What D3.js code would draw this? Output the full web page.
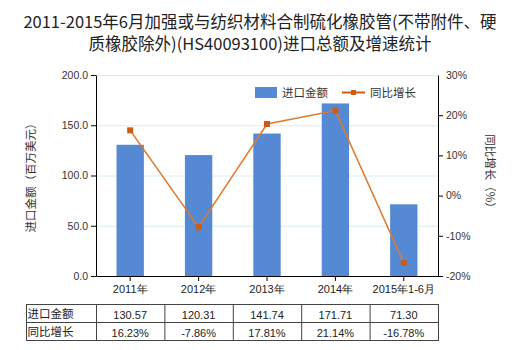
<!DOCTYPE html>
<html>
<head>
<meta charset="utf-8">
<script src="https://cdn.jsdelivr.net/npm/d3@7"></script>
<style>
  html, body { margin: 0; padding: 0; background: #fff; }
  svg { display: block; font-family: "Noto Sans CJK SC", "DejaVu Sans", sans-serif; }
</style>
</head>
<body>
<svg id="chart" width="520" height="350"></svg>
<script>
// Import values (million USD) and year-on-year growth (%)
const categories = ["2011年", "2012年", "2013年", "2014年", "2015年1-6月"];
const importValues = [130.57, 120.31, 141.74, 171.71, 71.30];
const growthRates = [16.23, -7.86, 17.81, 21.14, -16.78];
const leftTicks = [0, 50, 100, 150, 200];
const rightTicks = [-20, -10, 0, 10, 20, 30];
const titleLines = [
  "2011-2015年6月加强或与纺织材料合制硫化橡胶管(不带附件、硬",
  "质橡胶除外)(HS40093100)进口总额及增速统计"
];
const rowNames = ["进口金额", "同比增长"];

const svg = d3.select("#chart");
const plot = { left: 96, right: 438, top: 75, bottom: 276 };
const barColor = "#5589d4";
const lineColor = "#e0782c";
const markerColor = "#cf5a12";
const numFont = "'Liberation Sans', Arial, sans-serif";

const x = d3.scaleBand().domain(categories).range([plot.left, plot.right]);
const yL = d3.scaleLinear().domain([0, 200]).range([plot.bottom, plot.top]);
const yR = d3.scaleLinear().domain([-20, 30]).range([plot.bottom, plot.top]);

// Title
svg.append("g").selectAll("text").data(titleLines).join("text")
  .attr("x", 260).attr("y", (d, i) => 28 + i * 22)
  .attr("text-anchor", "middle")
  .attr("font-size", 16.5).attr("fill", "#222")
  .text(d => d);

// Gridlines
svg.append("g").selectAll("line").data(leftTicks.filter(t => t > 0)).join("line")
  .attr("x1", plot.left).attr("x2", plot.right)
  .attr("y1", d => yL(d) + 0.5).attr("y2", d => yL(d) + 0.5)
  .attr("stroke", "#d6eef3").attr("stroke-width", 1);

// Bars
const barW = x.bandwidth() * 0.4;
svg.append("g").selectAll("rect").data(importValues).join("rect")
  .attr("x", (d, i) => x(categories[i]) + (x.bandwidth() - barW) / 2)
  .attr("y", d => yL(d))
  .attr("width", barW)
  .attr("height", d => plot.bottom - yL(d))
  .attr("fill", barColor);

// Left axis
const axL = svg.append("g").attr("transform", `translate(${plot.left},0)`)
  .call(d3.axisLeft(yL).tickValues(leftTicks).tickFormat(d3.format(".1f")).tickSize(5).tickSizeOuter(0));
axL.select(".domain").attr("stroke", "#000");
axL.selectAll(".tick line").attr("stroke", "#000");
axL.selectAll("text").attr("font-size", 10.5).attr("fill", "#333").attr("font-family", numFont).attr("x", -8);

// Right axis
const axR = svg.append("g").attr("transform", `translate(${plot.right},0)`)
  .call(d3.axisRight(yR).tickValues(rightTicks).tickFormat(d => d + "%").tickSize(5).tickSizeOuter(0));
axR.select(".domain").attr("stroke", "#000");
axR.selectAll(".tick line").attr("stroke", "#000").attr("opacity", d => d === 30 ? 0 : 1);
axR.selectAll("text").attr("font-size", 10.5).attr("fill", "#333").attr("font-family", numFont).attr("x", 8);

// Bottom axis
const axB = svg.append("g").attr("transform", `translate(0,${plot.bottom})`)
  .call(d3.axisBottom(x).tickSize(5).tickSizeOuter(0));
axB.select(".domain").attr("stroke", "#000");
axB.selectAll(".tick line").attr("stroke", "#000");
axB.selectAll("text").attr("font-size", 11).attr("fill", "#222").attr("y", 9);

// Axis titles
svg.append("text").attr("transform", "translate(35,175) rotate(-90)")
  .attr("text-anchor", "middle").attr("font-size", 11.5).attr("fill", "#333")
  .text("进口金额（百万美元）");
svg.append("text").attr("transform", "translate(486,174) rotate(90)")
  .attr("text-anchor", "middle").attr("font-size", 11.5).attr("fill", "#333")
  .text("同比增长（%）");

// Growth line with markers
const cx = (d, i) => x(categories[i]) + x.bandwidth() / 2;
const line = d3.line().x(cx).y(d => yR(d));
svg.append("path").datum(growthRates)
  .attr("d", line).attr("fill", "none")
  .attr("stroke", lineColor).attr("stroke-width", 1.5);
svg.append("g").selectAll("rect").data(growthRates).join("rect")
  .attr("x", (d, i) => cx(d, i) - 3).attr("y", d => yR(d) - 3)
  .attr("width", 6).attr("height", 6)
  .attr("fill", markerColor);

// Legend
const lg = svg.append("g");
lg.append("rect").attr("x", 255).attr("y", 87).attr("width", 22).attr("height", 11).attr("fill", barColor);
lg.append("text").attr("x", 282).attr("y", 97).attr("font-size", 11.5).attr("fill", "#333").text("进口金额");
lg.append("line").attr("x1", 342).attr("x2", 365).attr("y1", 92.5).attr("y2", 92.5)
  .attr("stroke", markerColor).attr("stroke-width", 2);
lg.append("rect").attr("x", 351).attr("y", 90).attr("width", 5).attr("height", 5).attr("fill", markerColor);
lg.append("text").attr("x", 370).attr("y", 97).attr("font-size", 11.5).attr("fill", "#333").text("同比增长");

// Data table
const tbl = svg.append("g");
const tTop = 304.5, rowH = 18, tLeft = 26.5, firstCol = 96.5;
const colEdges = [tLeft, firstCol].concat(categories.map((c, i) => i === categories.length - 1 ? plot.right + 0.5 : x(categories[i + 1]) + 0.5));
const tableStroke = "#444";
tbl.append("rect").attr("x", tLeft).attr("y", tTop).attr("width", plot.right + 0.5 - tLeft).attr("height", rowH * 2)
  .attr("fill", "none").attr("stroke", tableStroke);
tbl.append("line").attr("x1", tLeft).attr("x2", plot.right + 0.5).attr("y1", tTop + rowH).attr("y2", tTop + rowH).attr("stroke", tableStroke);
tbl.selectAll("line.col").data(colEdges.slice(1, -1)).join("line").attr("class", "col")
  .attr("x1", d => d).attr("x2", d => d).attr("y1", tTop).attr("y2", tTop + rowH * 2).attr("stroke", tableStroke);
tbl.selectAll("text.rn").data(rowNames).join("text").attr("class", "rn")
  .attr("x", tLeft + 1).attr("y", (d, i) => tTop + rowH * i + 13.5)
  .attr("font-size", 11.5).attr("fill", "#222").text(d => d);
const rowVals = [importValues.map(v => v.toFixed(2)), growthRates.map(v => v.toFixed(2) + "%")];
rowVals.forEach((vals, r) => {
  tbl.selectAll("text.v" + r).data(vals).join("text").attr("class", "v" + r)
    .attr("x", (d, i) => x(categories[i]) + x.bandwidth() / 2)
    .attr("y", tTop + rowH * r + 14)
    .attr("text-anchor", "middle").attr("font-size", 11).attr("fill", "#222")
    .attr("font-family", numFont)
    .text(d => d);
});
</script>
</body>
</html>
